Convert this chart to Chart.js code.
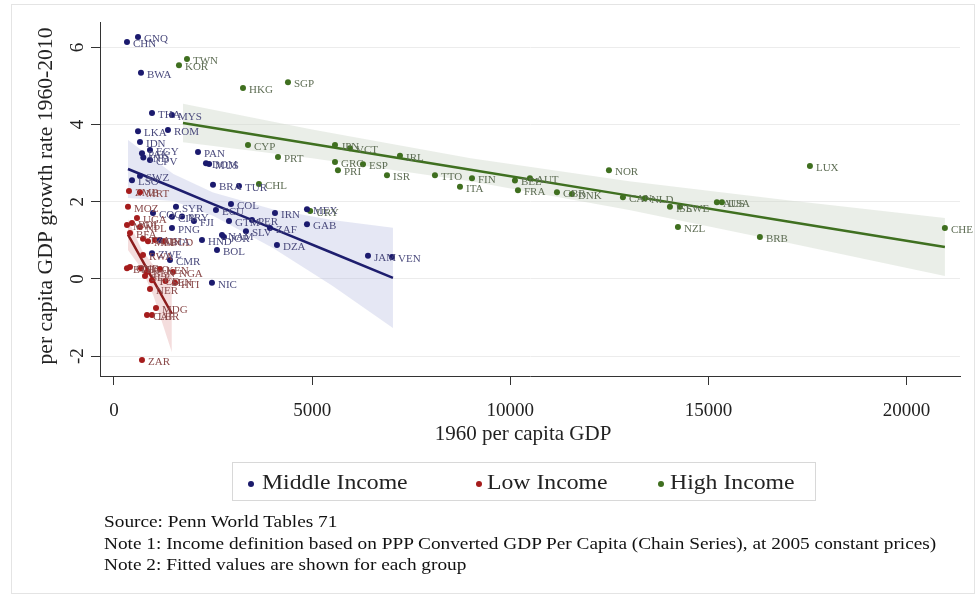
<!DOCTYPE html>
<html>
<head>
<meta charset="utf-8">
<script src="https://cdn.jsdelivr.net/npm/chart.js@4"></script>
<style>
  html, body { margin: 0; padding: 0; background: #fff; }
  body { width: 979px; height: 603px; position: relative; overflow: hidden; font-family: 'Liberation Serif', 'DejaVu Serif', serif; }
  .frame { position: absolute; left: 11px; top: 4px; width: 962px; height: 588px; border: 1px solid #e4e4e4; }
  #chart { position: absolute; left: 0; top: 0; }
  .legend { position: absolute; left: 232px; top: 462px; width: 584px; height: 39px; border: 1px solid #d8d8d8; box-sizing: border-box; }
  .legend span { position: absolute; top: 7px; font-size: 21px; color: #222; white-space: nowrap; transform: scaleX(1.13); transform-origin: left center; }
  .legend i { position: absolute; top: 18px; width: 6px; height: 6px; border-radius: 50%; }
  .notes { position: absolute; left: 104px; top: 511px; font-size: 16.5px; line-height: 21.5px; color: #111; white-space: nowrap; transform: scaleX(1.17); transform-origin: left top; }
</style>
</head>
<body>
<div class="frame"></div>
<canvas id="chart" width="979" height="603"></canvas>
<div class="legend">
  <i style="left:15px;background:#1b1a6b"></i><span style="left:29px">Middle Income</span>
  <i style="left:243px;background:#a51c1c"></i><span style="left:254px">Low Income</span>
  <i style="left:425px;background:#3f6f1f"></i><span style="left:437px">High Income</span>
</div>
<div class="notes">
  Source: Penn World Tables 71<br>
  Note 1: Income definition based on PPP Converted GDP Per Capita (Chain Series), at 2005 constant prices)<br>
  Note 2: Fitted values are shown for each group
</div>
<script>
// axis ticks
const xTicks = [0, 5000, 10000, 15000, 20000];
const yTicks = [-2, 0, 2, 4, 6];

// Middle income countries
const midNames = ['CHN','GNQ','BWA','THA','MYS','ROM','LKA','IDN','EGY','PAK','IND','CPV','PAN','DOM','MUS','LSO','SWZ','BRA','TUR','COL','ECU','SYR','COG','CIV','PRY','FJI','IRN','MEX','GAB','GTM','PER','ZAF','SLV','NAM','JOR','HND','BOL','DZA','PNG','NIC','JAM','VEN','ZWE','CMR','GHA'];
const midX = [328, 606, 681, 959, 1463, 1362, 606, 656, 908, 706, 740, 908, 2120, 2321, 2400, 454, 656, 2498, 3154, 2952, 2573, 1564, 984, 1463, 1716, 2018, 4062, 4870, 4870, 2902, 3482, 3936, 3330, 2725, 2775, 2220, 2599, 4112, 1463, 2472, 6409, 7014, 959, 1413, 1161];
const midY = [6.14, 6.27, 5.34, 4.30, 4.25, 3.86, 3.83, 3.55, 3.34, 3.26, 3.15, 3.08, 3.29, 3.00, 2.98, 2.56, 2.67, 2.44, 2.41, 1.94, 1.79, 1.87, 1.71, 1.61, 1.62, 1.50, 1.71, 1.81, 1.42, 1.50, 1.53, 1.32, 1.24, 1.14, 1.09, 1.01, 0.75, 0.88, 1.32, -0.10, 0.60, 0.57, 0.67, 0.49, 1.01];

// Low income countries
const lowNames = ['ZMB','MRT','MOZ','UGA','MWI','BDI','NPL','BFA','TZA','MLI','GIN','BGD','RWA','ETH','GNB','TGO','BEN','KEN','NGA','SLE','TCD','SEN','HTI','NER','MDG','CAF','LBR','ZAR'];
const lowX = [378, 656, 353, 580, 328, 454, 656, 404, 732, 858, 1034, 1261, 732, 328, 404, 681, 830, 1161, 1488, 782, 959, 1300, 1539, 908, 1060, 833, 959, 706];
const lowY = [2.28, 2.25, 1.87, 1.58, 1.40, 1.45, 1.35, 1.19, 1.04, 0.98, 1.01, 0.98, 0.62, 0.28, 0.31, 0.28, 0.18, 0.26, 0.18, 0.08, -0.03, -0.05, -0.10, -0.26, -0.75, -0.93, -0.93, -2.10];

// High income countries
const highNames = ['TWN','KOR','HKG','SGP','CYP','PRT','CHL','JPN','VCT','IRL','GRC','PRI','ESP','ISR','TTO','FIN','ITA','BEL','AUT','FRA','GBR','DNK','NOR','CAN','NLD','ISL','SWE','AUS','USA','NZL','BRB','LUX','CHE','URY'];
const highX = [1842, 1640, 3255, 4390, 3381, 4138, 3658, 5576, 5954, 7216, 5576, 5651, 6283, 6888, 8099, 9033, 8730, 10117, 10496, 10193, 11177, 11555, 12489, 12842, 13397, 14028, 14280, 15213, 15340, 14230, 16298, 17560, 20966, 4950];
const highY = [5.70, 5.54, 4.95, 5.10, 3.47, 3.16, 2.46, 3.47, 3.39, 3.19, 3.03, 2.82, 2.97, 2.69, 2.69, 2.61, 2.39, 2.55, 2.61, 2.30, 2.25, 2.20, 2.82, 2.12, 2.09, 1.87, 1.87, 1.99, 1.99, 1.35, 1.09, 2.93, 1.32, 1.76];

// fitted values and confidence bands
const midFitX = [353, 1500, 2500, 4000, 5500, 7039];
const midFitY = [2.85, 2.37, 1.94, 1.31, 0.68, 0.03];
const midBandHi = [3.60, 2.72, 2.24, 1.81, 1.53, 1.33];
const midBandLo = [2.10, 2.02, 1.64, 0.81, -0.17, -1.27];

const lowFitX = [353, 700, 1000, 1460];
const lowFitY = [1.15, 0.51, -0.05, -0.90];
const lowBandHi = [1.55, 0.76, 0.35, 0.10];
const lowBandLo = [0.75, 0.26, -0.45, -1.90];

const highFitX = [1741, 5000, 9000, 13000, 17000, 20966];
const highFitY = [4.04, 3.50, 2.83, 2.16, 1.49, 0.83];
const highBandHi = [4.54, 3.87, 3.13, 2.53, 2.04, 1.58];
const highBandLo = [3.54, 3.13, 2.53, 1.79, 0.94, 0.08];

const pts = (xs, ys) => xs.map((x, i) => ({ x: x, y: ys[i] }));

function band(xs, hi, lo, color) {
  return [
    { type: 'line', data: pts(xs, hi), borderWidth: 0, pointRadius: 0, backgroundColor: color, fill: '+1', order: 5 },
    { type: 'line', data: pts(xs, lo), borderWidth: 0, pointRadius: 0, fill: false, order: 5 }
  ];
}
function fit(xs, ys, color) {
  return { type: 'line', data: pts(xs, ys), borderColor: color, borderWidth: 2.5, pointRadius: 0, fill: false, order: 3 };
}
function group(names, xs, ys, color, labelColor) {
  return { type: 'scatter', data: pts(xs, ys), names: names, labelColor: labelColor,
    backgroundColor: color, borderColor: color, pointRadius: 3, borderWidth: 0, order: 1 };
}

// marker labels, y tick labels (rotated) and axis titles
const textPlugin = {
  id: 'texts',
  afterDatasetsDraw(chart) {
    const ctx = chart.ctx;
    ctx.save();
    ctx.font = '11px "Liberation Serif", serif';
    ctx.textBaseline = 'middle';
    ctx.textAlign = 'left';
    chart.data.datasets.forEach((ds, i) => {
      if (!ds.names) return;
      ctx.fillStyle = ds.labelColor;
      chart.getDatasetMeta(i).data.forEach((el, j) => {
        ctx.fillText(ds.names[j], el.x + 6, el.y + 2);
      });
    });
    ctx.restore();
  },
  afterDraw(chart) {
    const ctx = chart.ctx;
    const ys = chart.scales.y;
    const area = chart.chartArea;
    ctx.save();
    ctx.fillStyle = '#222';
    ctx.font = '19px "Liberation Serif", serif';
    ctx.textAlign = 'center';
    ctx.textBaseline = 'middle';
    yTicks.forEach(v => {
      const py = ys.getPixelForValue(v);
      ctx.save();
      ctx.translate(78, py);
      ctx.rotate(-Math.PI / 2);
      ctx.fillText(String(v), 0, 0);
      ctx.restore();
    });
    ctx.font = '21px "Liberation Serif", serif';
    ctx.save();
    ctx.translate(46, (area.top + area.bottom) / 2 - 3);
    ctx.rotate(-Math.PI / 2);
    ctx.scale(1.03, 1);
    ctx.fillText('per capita GDP growth rate 1960-2010', 0, 0);
    ctx.restore();
    ctx.fillText('1960 per capita GDP', 523, 434);
    ctx.restore();
  }
};

new Chart(document.getElementById('chart'), {
  data: {
    datasets: [
      ...band(highFitX, highBandHi, highBandLo, 'rgba(205, 214, 200, 0.42)'),
      ...band(midFitX, midBandHi, midBandLo, 'rgba(170, 175, 220, 0.3)'),
      ...band(lowFitX, lowBandHi, lowBandLo, 'rgba(225, 165, 165, 0.38)'),
      fit(highFitX, highFitY, '#3f7020'),
      fit(midFitX, midFitY, '#1e1e6e'),
      fit(lowFitX, lowFitY, '#8c1c1c'),
      group(midNames, midX, midY, '#1b1a6e', '#4b4b7d'),
      group(lowNames, lowX, lowY, '#a51c1c', '#8a4a4a'),
      group(highNames, highX, highY, '#3f6f1f', '#5f6e55')
    ]
  },
  options: {
    responsive: false,
    animation: false,
    layout: { padding: { left: 40, top: 22, right: 19, bottom: 177 } },
    plugins: { legend: { display: false }, tooltip: { enabled: false } },
    scales: {
      x: {
        type: 'linear',
        min: -353,
        max: 21347,
        afterBuildTicks: s => { s.ticks = xTicks.map(v => ({ value: v })); },
        afterFit: s => { s.height = 50; },
        grid: { drawOnChartArea: false, tickLength: 9, tickColor: '#333' },
        border: { display: true, color: '#333', width: 1 },
        ticks: { font: { family: 'Liberation Serif', size: 19 }, color: '#222', padding: 15, maxRotation: 0,
          callback: v => String(v) }
      },
      y: {
        type: 'linear',
        min: -2.513,
        max: 6.658,
        afterBuildTicks: s => { s.ticks = yTicks.map(v => ({ value: v })); },
        afterFit: s => { s.width = 60; },
        grid: { color: '#ececec', tickLength: 9, tickColor: '#333' },
        border: { display: true, color: '#333', width: 1 },
        ticks: { display: false }
      }
    }
  },
  plugins: [textPlugin]
});
</script>
</body>
</html>
